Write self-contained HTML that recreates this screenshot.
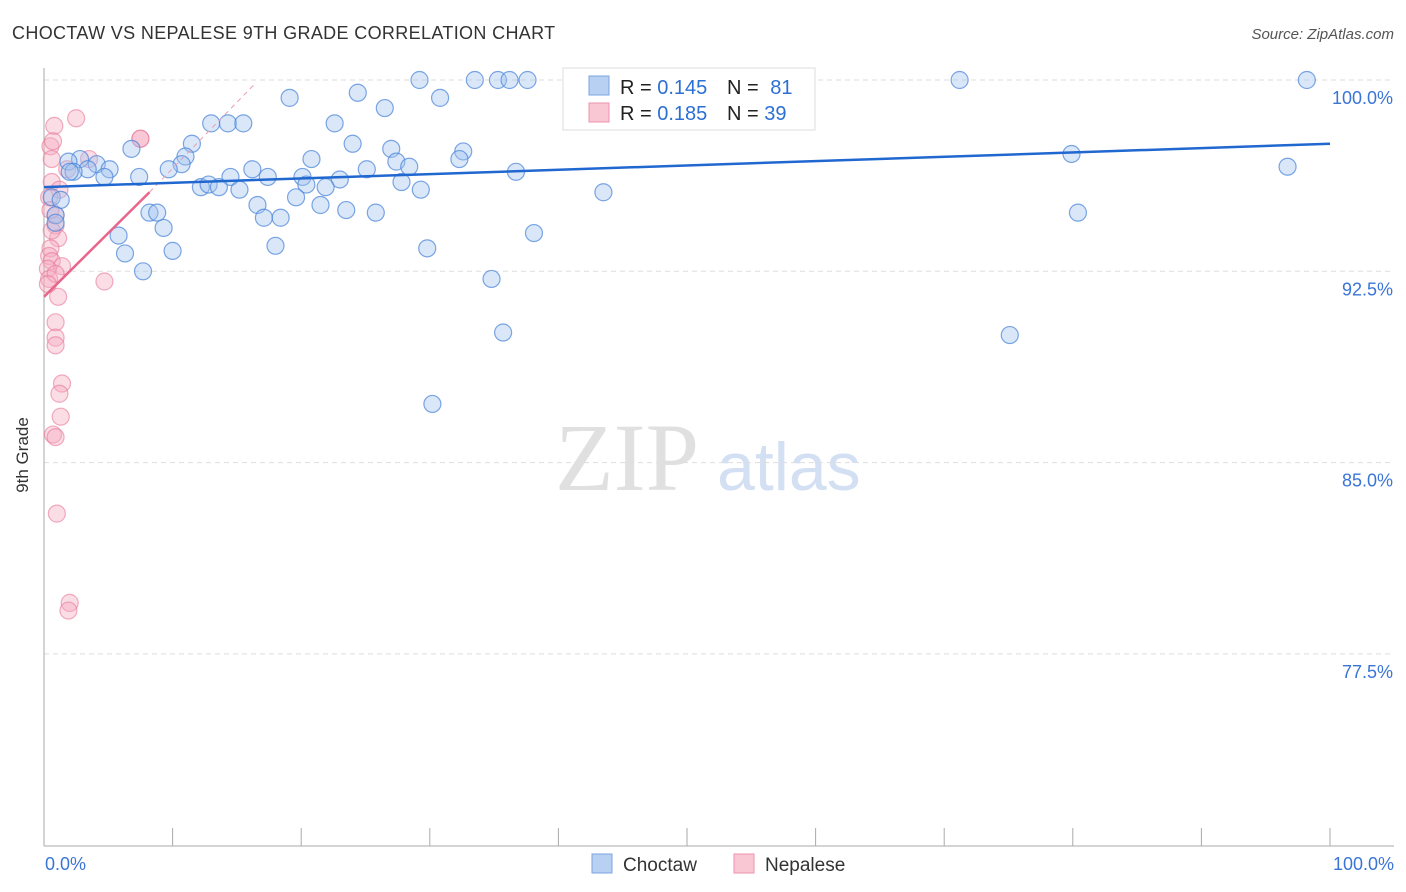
<!DOCTYPE html>
<html><head><meta charset="utf-8"><style>
body{margin:0;background:#fff;font-family:"Liberation Sans",sans-serif;}
svg{display:block}
</style></head><body>
<svg id="chart" width="1406" height="892">
<text x="12" y="39" font-size="18" fill="#333" letter-spacing="0.35">CHOCTAW VS NEPALESE 9TH GRADE CORRELATION CHART</text>
<text x="1394" y="39" font-size="15" fill="#555" font-style="italic" text-anchor="end">Source: ZipAtlas.com</text>
<text x="28" y="455" font-size="17" fill="#333" transform="rotate(-90 28 455)" text-anchor="middle">9th Grade</text>
<g>
<text x="555" y="490" font-size="96" font-family="Liberation Serif,serif" fill="#e0e0e0">ZIP</text>
<text x="717" y="490" font-size="68" fill="#d3dff2">atlas</text>
</g>
<g id="grid"></g><g id="axes"></g><g id="marks"></g>
<g>
<rect x="563" y="68" width="252" height="62" fill="#fff" stroke="#ddd"/>
<rect x="589" y="76" width="20" height="19" fill="#b8d0f2" stroke="#7aa5e0"/>
<rect x="589" y="103" width="20" height="19" fill="#f9c6d4" stroke="#ee93ad"/>
<text x="620" y="94" font-size="20" fill="#222">R = <tspan fill="#2b6fd4">0.145</tspan></text>
<text x="727" y="94" font-size="20" fill="#222">N = <tspan fill="#2b6fd4" dx="6">81</tspan></text>
<text x="620" y="120" font-size="20" fill="#222">R = <tspan fill="#2b6fd4">0.185</tspan></text>
<text x="727" y="120" font-size="20" fill="#222">N = <tspan fill="#2b6fd4">39</tspan></text>
</g>
<g>
<rect x="592" y="854" width="20" height="19" fill="#b8d0f2" stroke="#7aa5e0"/>
<text x="623" y="871" font-size="19" fill="#333">Choctaw</text>
<rect x="734" y="854" width="20" height="19" fill="#f9c6d4" stroke="#ee93ad"/>
<text x="765" y="871" font-size="19" fill="#333">Nepalese</text>
</g>
</svg>
<script>
const yTicks=[100,92.5,85,77.5];
const yTickLabels=["100.0%","92.5%","85.0%","77.5%"];
const xTickLabels=["0.0%","100.0%"];
const blueX=[29.2,33.5,35.3,36.2,37.6,45.6,71.2,98.2,19.1,24.4,30.8,26.5,13.0,14.3,15.5,22.6,11.5,6.8,24.0,27.0,32.6,2.8,1.9,4.1,11.0,20.8,27.4,32.3,3.4,5.1,10.7,16.2,25.1,28.4,36.7,2.3,4.7,7.4,9.7,14.5,17.4,20.1,23.0,12.2,12.8,13.6,15.2,20.4,21.9,27.8,29.3,43.5,79.9,96.7,0.6,1.3,16.6,19.6,21.5,0.9,8.2,8.8,17.1,18.4,23.5,25.8,0.9,9.3,5.8,38.1,80.4,18.0,10.0,29.8,6.3,7.7,34.8,35.7,75.1,30.2,2.0];
const blueY=[100,100,100,100,100,100,100,100,99.3,99.5,99.3,98.9,98.3,98.3,98.3,98.3,97.5,97.3,97.5,97.3,97.2,96.9,96.8,96.7,97.0,96.9,96.8,96.9,96.5,96.5,96.7,96.5,96.5,96.6,96.4,96.4,96.2,96.2,96.5,96.2,96.2,96.2,96.1,95.8,95.9,95.8,95.7,95.9,95.8,96.0,95.7,95.6,97.1,96.6,95.4,95.3,95.1,95.4,95.1,94.7,94.8,94.8,94.6,94.6,94.9,94.8,94.4,94.2,93.9,94.0,94.8,93.5,93.3,93.4,93.2,92.5,92.2,90.1,90.0,87.3,96.4];
const pinkX=[0.8,2.5,7.5,7.5,0.5,0.7,3.5,1.8,0.6,1.2,0.4,0.9,0.9,1.1,0.5,0.4,0.6,1.4,0.3,0.4,0.9,4.7,1.1,0.9,0.9,0.9,1.4,1.2,1.3,0.7,0.9,1.0,2.0,1.9,0.5,0.6,0.3,0.6];
const pinkY=[98.2,98.5,97.7,97.7,97.4,97.6,96.9,96.5,96.0,95.7,95.4,94.7,94.3,93.8,93.4,93.1,92.9,92.7,92.6,92.2,92.4,92.1,91.5,90.5,89.9,89.6,88.1,87.7,86.8,86.1,86.0,83.0,79.5,79.2,94.9,94.1,92.0,96.9];
const blueTrend=[[0,95.8],[100,97.5]];
const pinkTrend=[[0,91.5],[8.2,95.6]];
const pinkTrendExt=[[8.2,95.6],[16.3,99.8]];

const L=44,R=1330,T=80,yPer=191.3/7.5;
const sx=v=>L+(R-L)*v/100;
const sy=v=>T+(100-v)*yPer;
const NS="http://www.w3.org/2000/svg";
function mk(tag,attrs,parent){const e=document.createElementNS(NS,tag);for(const k in attrs)e.setAttribute(k,attrs[k]);document.getElementById(parent).appendChild(e);return e;}

yTicks.forEach((t,i)=>{
 const g=mk('line',{x1:L,x2:1394,y1:sy(t),y2:sy(t),stroke:'#ddd','stroke-dasharray':'5,4'},'grid');
 
 
 const tx=mk('text',{x:1393,y:sy(t)+24,'font-size':18,fill:'#3a75d6','text-anchor':'end'},'axes');
 tx.textContent=yTickLabels[i];
 
 
});
let ax=mk('line',{x1:L,x2:L,y1:68,y2:846,stroke:'#aaa'},'axes');


ax=mk('line',{x1:L,x2:1394,y1:846,y2:846,stroke:'#aaa'},'axes');


for(let i=1;i<=10;i++){
 const t=mk('line',{x1:sx(i*10),x2:sx(i*10),y1:828,y2:846,stroke:'#aaa'},'axes');
 
 
}
[[0,'start',45],[100,'end',1394]].forEach((d,i)=>{
 const tx=mk('text',{x:d[2],y:870,'font-size':18,fill:'#3a75d6','text-anchor':d[1]},'axes');
 tx.textContent=xTickLabels[i];
 
 
});
pinkX.forEach((x,i)=>{
 const c=mk('circle',{cx:sx(x),cy:sy(pinkY[i]),r:8.5,fill:'rgba(246,170,192,0.4)',stroke:'rgba(232,120,152,0.6)','stroke-width':1.2},'marks');
 
 
});
blueX.forEach((x,i)=>{
 const c=mk('circle',{cx:sx(x),cy:sy(blueY[i]),r:8.5,fill:'rgba(160,195,240,0.4)',stroke:'rgba(70,130,215,0.7)','stroke-width':1.2},'marks');
 
 
});
let ln=mk('line',{x1:sx(pinkTrendExt[0][0]),y1:sy(pinkTrendExt[0][1]),x2:sx(pinkTrendExt[1][0]),y2:sy(pinkTrendExt[1][1]),stroke:'#eaa0b4','stroke-dasharray':'5,4','stroke-width':1},'marks');


ln=mk('line',{x1:sx(pinkTrend[0][0]),y1:sy(pinkTrend[0][1]),x2:sx(pinkTrend[1][0]),y2:sy(pinkTrend[1][1]),stroke:'#e8668c','stroke-width':2.5},'marks');


ln=mk('line',{x1:sx(blueTrend[0][0]),y1:sy(blueTrend[0][1]),x2:sx(blueTrend[1][0]),y2:sy(blueTrend[1][1]),stroke:'#2067d0','stroke-width':2.5},'marks');


</script>
</body></html>
